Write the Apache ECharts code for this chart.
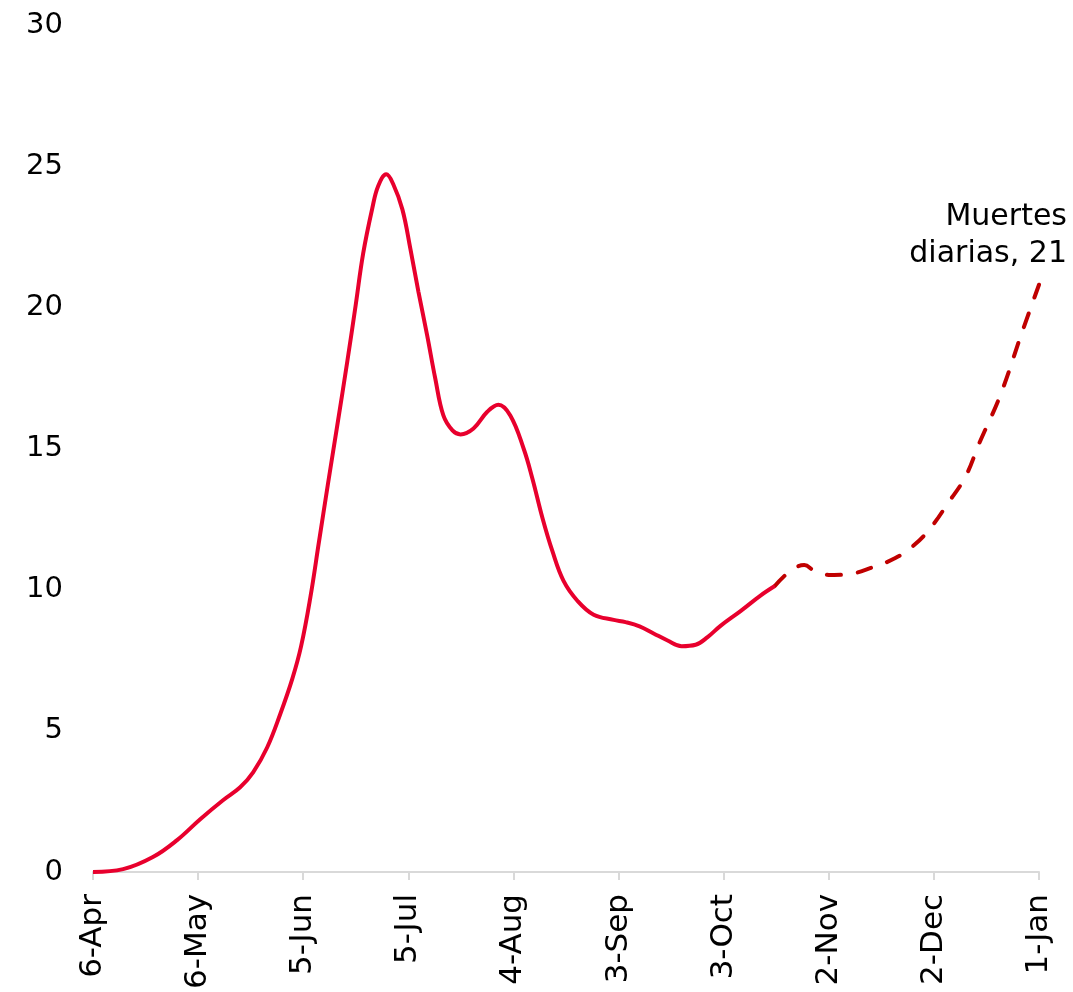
<!DOCTYPE html>
<html>
<head>
<meta charset="utf-8">
<script src="https://cdn.jsdelivr.net/npm/echarts@6/dist/echarts.min.js"></script>
<style>html,body{margin:0;padding:0;background:#fff}#c{width:1073px;height:992px}</style>
</head>
<body>
<div id="c"></div>
<script>
// x: days since 6-Apr
var tickLabels = ['6-Apr','6-May','5-Jun','5-Jul','4-Aug','3-Sep','3-Oct','2-Nov','2-Dec','1-Jan'];
var actualDays = [0,8.6,17.1,24,30.6,37.1,42,45.7,49.7,53.4,56.9,59.4,62,64.5,67,69.7,72.6,75,77.1,79.7,81.4,83.7,85.7,88.3,90.6,92.9,95.4,97.7,100,102.6,104.9,108.6,112.6,115.7,119.1,122.9,125.4,128.3,131.1,134.3,138.3,142.9,148.6,152,156,160,164,168,172,175.5,179.1,184.9,190.6,194.6];
var actualValues = [0,0.1,0.53,1.13,1.87,2.54,3.0,3.53,4.41,5.58,6.85,8.0,9.7,11.7,13.7,15.8,18.1,20.1,21.9,23.5,24.3,24.71,24.36,23.47,22.06,20.54,18.99,17.47,16.17,15.64,15.5,15.71,16.31,16.55,16.17,15.0,13.94,12.53,11.37,10.31,9.6,9.11,8.93,8.85,8.7,8.45,8.2,8.0,8.05,8.33,8.72,9.25,9.8,10.13];
var projDays = [194.6,199,203,206,210.6,215.7,222,229,234,239,244,249,253,259,265,270];
var projValues = [10.13,10.66,10.87,10.66,10.52,10.55,10.77,11.12,11.54,12.18,13.06,14.0,15.2,16.9,19.06,20.8];
var annotation = 'Muertes\ndiarias, 21';

function pairs(d, v){ return d.map(function(x,i){ return [x, v[i]]; }); }

var FONT = 'DejaVu Sans';
var chart = echarts.init(document.getElementById('c'));
chart.setOption({
  animation: false,
  grid: {left: 93, right: 34, top: 25, bottom: 117, containLabel: false},
  xAxis: {
    type: 'value', min: 0, max: 270, interval: 30,
    axisLine: {show: true, lineStyle: {color: '#d9d9d9', width: 2}},
    axisTick: {show: true, length: 8, lineStyle: {color: '#d9d9d9', width: 2}},
    splitLine: {show: false},
    axisLabel: {
      rotate: 90, margin: 22, color: '#000', fontFamily: FONT, fontSize: 31,
      formatter: function(v){ return tickLabels[Math.round(v/30)] || ''; }
    }
  },
  yAxis: {
    type: 'value', min: 0, max: 30, interval: 5,
    axisLine: {show: false}, axisTick: {show: false}, splitLine: {show: false},
    axisLabel: {color: '#000', fontFamily: FONT, fontSize: 29, margin: 30}
  },
  series: [
    {type: 'line', data: pairs(actualDays, actualValues), smooth: 0.4, showSymbol: false,
     lineStyle: {color: '#E8002D', width: 4}, z: 3},
    {type: 'line', data: pairs(projDays, projValues), smooth: 0.4, showSymbol: false,
     lineStyle: {color: '#C00000', width: 4, type: [14, 17], cap: 'round'}, z: 2}
  ],
  graphic: [{
    type: 'text', right: 6, top: 199,
    style: {text: annotation, fill: '#000', font: '30px "DejaVu Sans"', textAlign: 'right', lineHeight: 37}
  }]
});
</script>
</body>
</html>
